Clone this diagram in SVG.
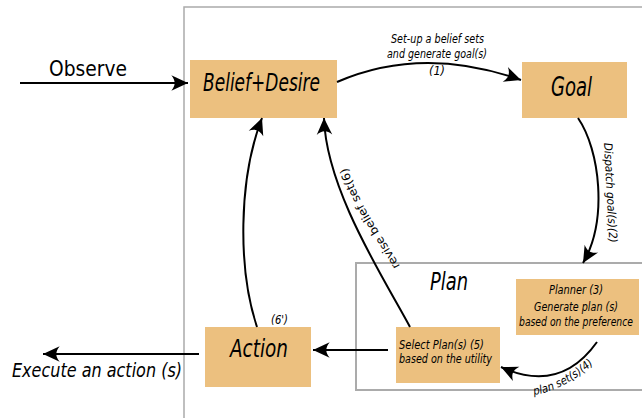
<svg xmlns="http://www.w3.org/2000/svg" width="642" height="418" viewBox="0 0 642 418">
<style>
.box{fill:#ecc07f;}
.frame{fill:none;stroke:#ababab;stroke-width:1.5;}
.t{font-family:"DejaVu Sans","Liberation Sans",sans-serif;fill:#000;}
.i{font-style:italic;}
.c{fill:none;stroke:#000;stroke-width:2;}
.s{font-size:11.5px;}
</style>
<defs>
<marker id="ah" markerUnits="userSpaceOnUse" markerWidth="20" markerHeight="20" viewBox="-16 -8 18 16" refX="0" refY="0" orient="auto">
<path d="M0,0 L-15,-7 C-11,-2 -11,2 -15,7 Z" fill="#000"/>
</marker>
<path id="pRevise" d="M400,266 C386,240 354,200 345,158"/>
<path id="pPlanSet" d="M534,395 Q566,390 598,360"/>
</defs>
<rect class="frame" x="184" y="7" width="470" height="420"/>
<g id="plan">
<rect class="frame" x="356" y="263" width="300" height="127" style="stroke-width:2"/>
<text class="t i" x="430" y="290" font-size="24" textLength="38" lengthAdjust="spacingAndGlyphs">Plan</text>
</g>
<g id="observe">
<text class="t" x="49" y="76" font-size="22" textLength="78" lengthAdjust="spacingAndGlyphs">Observe</text>
</g>
<g id="belief">
<rect class="box" x="190" y="60" width="147" height="58"/>
<text class="t i" x="203" y="91" font-size="24" textLength="117" lengthAdjust="spacingAndGlyphs">Belief+Desire</text>
</g>
<g id="goal">
<rect class="box" x="522" y="62" width="105" height="56"/>
<text class="t i" x="551" y="96" font-size="26" textLength="41" lengthAdjust="spacingAndGlyphs">Goal</text>
</g>
<g id="planner">
<rect class="box" x="516" y="279" width="123" height="56"/>
<text class="t i s" x="549" y="294" textLength="54" lengthAdjust="spacingAndGlyphs">Planner (3)</text>
<text class="t i s" x="534" y="311" textLength="84" lengthAdjust="spacingAndGlyphs">Generate plan (s)</text>
<text class="t i s" x="519" y="326" textLength="114" lengthAdjust="spacingAndGlyphs">based on the preference</text>
</g>
<g id="select">
<rect class="box" x="396" y="327" width="104" height="56"/>
<text class="t i s" x="399" y="349" textLength="85" lengthAdjust="spacingAndGlyphs">Select Plan(s) (5)</text>
<text class="t i s" x="399" y="363" textLength="93" lengthAdjust="spacingAndGlyphs">based on the utility</text>
</g>
<g id="action">
<rect class="box" x="205" y="327" width="106" height="60"/>
<text class="t i" x="230" y="357" font-size="25" textLength="58" lengthAdjust="spacingAndGlyphs">Action</text>
</g>
<g id="execute">
<text class="t i" x="12" y="377" font-size="20" textLength="170" lengthAdjust="spacingAndGlyphs">Execute an action (s)</text>
</g>
<g id="connectors">
<path class="c" d="M20,83 L188,83" marker-end="url(#ah)"/>
<path class="c" d="M337,82 Q422,45 521,80" marker-end="url(#ah)"/>
<path class="c" d="M578,118 C600,150 608,220 583,263" marker-end="url(#ah)"/>
<path class="c" d="M597,342 Q560,394 501,367" marker-end="url(#ah)"/>
<path class="c" d="M388,350 L313,350" marker-end="url(#ah)"/>
<path class="c" d="M257,327 C238,270 238,180 262,118" marker-end="url(#ah)"/>
<path class="c" d="M410,327 C385,280 326,190 324,118" marker-end="url(#ah)"/>
<path class="c" d="M199,354 L43,354" marker-end="url(#ah)"/>
<text class="t i s" x="391" y="43" textLength="93" lengthAdjust="spacingAndGlyphs">Set-up a belief sets</text>
<text class="t i s" x="387" y="58" textLength="100" lengthAdjust="spacingAndGlyphs">and generate goal(s)</text>
<text class="t i s" x="429" y="75" textLength="16" lengthAdjust="spacingAndGlyphs">(1)</text>
<text class="t i s" transform="translate(604,143) rotate(87)" textLength="100" lengthAdjust="spacingAndGlyphs">Dispatch goal(s)(2)</text>
<text class="t s"><textPath href="#pRevise" textLength="112" lengthAdjust="spacingAndGlyphs">revise belief set(6)</textPath></text>
<text class="t i s"><textPath href="#pPlanSet" textLength="68" lengthAdjust="spacingAndGlyphs">plan set(s)(4)</textPath></text>
<text class="t i s" x="271" y="324" textLength="17" lengthAdjust="spacingAndGlyphs">(6')</text>
</g>
</svg>
